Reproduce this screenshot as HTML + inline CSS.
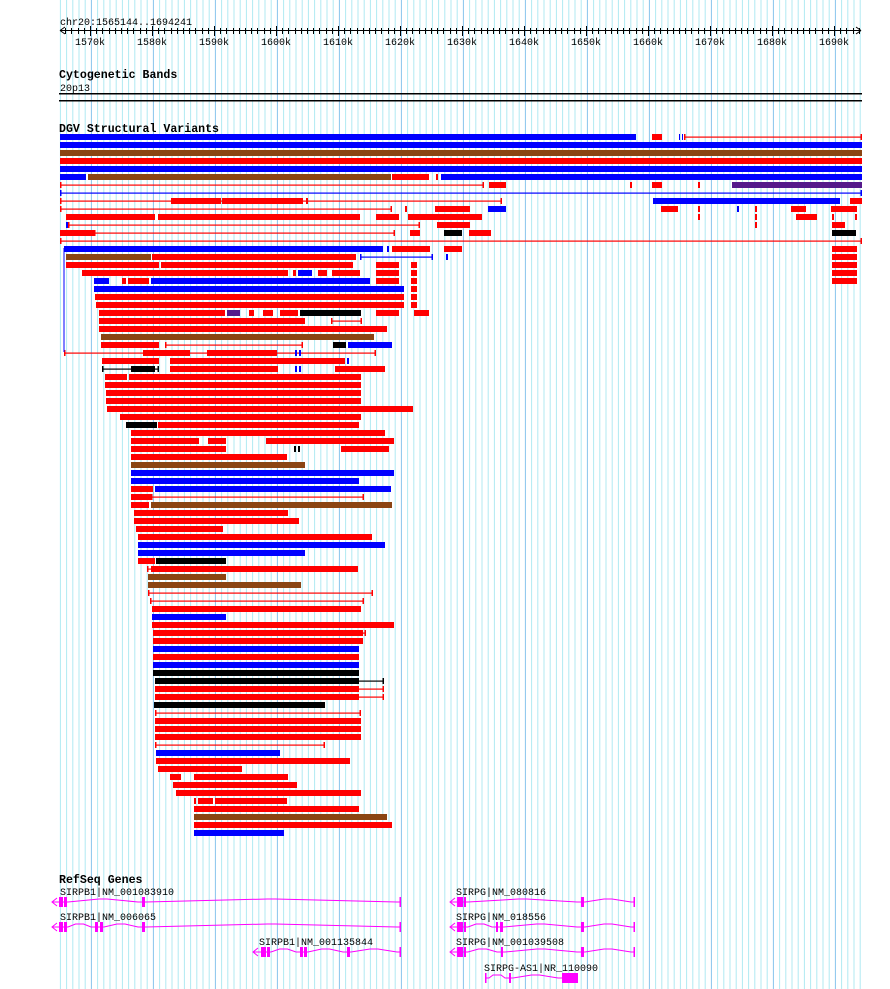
<!DOCTYPE html><html><head><meta charset="utf-8"><style>
html,body{margin:0;padding:0;background:#fff;width:890px;height:989px;overflow:hidden}
svg{display:block}
text{font-family:"Liberation Mono",monospace;font-size:10px;fill:#000}
.b{font-weight:bold;font-size:11.6px}
</style></head><body>
<svg id="s" width="890" height="989" xmlns="http://www.w3.org/2000/svg"></svg>
<script>
var s=document.getElementById('s'),h='';
// grid
for(var i=0;i<=130;i++){var x=59.9+i*6.2;if(x>862)break;var k=1565+i;var maj=((1565+i)%10==0);
h+='<rect x="'+x.toFixed(1)+'" y="0" width="1" height="989" fill="'+(maj?'#88c4ec':'#b0eaf2')+'"/>';}
// ruler
h+='<text x="60" y="25">chr20:1565144..1694241</text>';
h+='<rect x="60" y="30" width="801" height="1" fill="#000"/>';
h+='<path d="M60 30.5 L65 27 M60 30.5 L65 34 M861 30.5 L856 27 M861 30.5 L856 34" stroke="#000" fill="none"/>';
for(var k=1566;k<=1694;k++){var x=Math.round(90+(k-1570)*6.2);var maj=k%10==0;
h+='<rect x="'+x+'" y="'+(maj?26:28)+'" width="1" height="'+(maj?10:6)+'" fill="#000"/>';
if(maj)h+='<text x="'+x+'" y="45" text-anchor="middle">'+k+'k</text>';}
h+='<text class="b" x="59" y="78">Cytogenetic Bands</text><text x="60" y="91">20p13</text>';
h+='<rect x="59" y="93" width="803" height="1.5" fill="#000"/><rect x="59" y="100" width="803" height="1.5" fill="#000"/>';
h+='<text class="b" x="59" y="132">DGV Structural Variants</text>';
var C={b:'#0000ff',r:'#ff0000',n:'#8b4513',k:'#000',p:'#551a8b'};
var rows=[
"b60-636 r652-662 b679-680 b682-683 r~684-862",
"b60-862","n60-862","r60-862","b60-862",
"b60-86 n88-391 r392-429 r436-438 b441-862",
"r~60-484 r489-506 r630-632 r652-662 r698-700 p732-862",
"b~60-862",
"r~60-502 r171-221 r222-303 r306-308 b653-840 r850-862",
"r~60-392 r405-407 r435-470 b488-506 r661-678 r698-700 b737-739 r755-757 r791-806 r831-857",
"r66-155 r158-360 r376-399 r408-482 r698-700 r755-757 r796-817 r832-834 r855-857",
"b66-68 r~68-420 r437-470 r755-757 r832-845",
"r60-94 r~94-395 r410-420 k444-462 r469-491 k832-856",
"r~60-862",
"b64-383 b387-389 r392-430 r444-462 r832-857",
"n66-151 r152-356 b~360-433 b446-448 r832-857",
"r66-159 r161-353 r376-399 r411-417 r832-857",
"r82-288 r293-296 b298-312 r318-327 r332-360 r376-399 r411-417 r832-857",
"b94-109 r122-126 r128-149 b151-370 r376-399 r411-417 r832-857",
"b94-404 r411-417","r95-404 r411-417","r96-404 r411-417",
"r99-225 p227-240 r249-254 r263-273 r280-298 k300-361 r376-399 r414-429",
"r99-305 r~331-362","r99-387","n101-374",
"r101-159 r~165-303 k333-346 b348-392",
"r~64-376 r143-190 r207-277 b295-297 b299-301",
"r102-159 r170-345 b347-349",
"k~102-159 k131-155 r170-278 b295-297 b299-301 r335-385",
"r105-127 r129-361","r105-361","r106-361","r106-361","r107-413","r120-361",
"k126-157 r158-359","r131-385","r131-199 r208-226 r266-394",
"r131-226 k294-296 k298-300 r341-389","r131-287","n131-305","b131-394","b131-359",
"r131-153 b155-391","r131-151 r~151-364","r131-149 n151-392",
"r134-288","r134-299","r136-223","r138-372","b138-385","b138-305","r138-155 k156-226",
"r~147-358 r151-358","n148-226","n148-301","r~148-373","r~150-364","r152-361","b152-226","r152-394",
"r~153-366 r153-363","r153-363","b153-359","r153-359","b153-359","k153-359",
"k~155-384 k155-359","r~155-384 r155-359","r~155-384 r155-359","k154-325",
"r~155-361","r155-361","r155-361","r155-361","r~155-325","b156-280","r156-350","r158-242",
"r170-181 r194-288","r173-297","r176-361","r194-196 r198-213 r215-287","r194-359","n194-387","r194-392","b194-284"];
rows.forEach(function(r,i){var y=134+8*i;r.split(' ').forEach(function(t){
var c=C[t[0]],ln=t[1]=='~',p=t.slice(ln?2:1).split('-'),a=+p[0],b=+p[1];
if(ln){h+='<rect x="'+a+'" y="'+(y+2.5)+'" width="'+(b-a)+'" height="1.2" fill="'+c+'"/><rect x="'+a+'" y="'+y+'" width="1.5" height="6" fill="'+c+'"/><rect x="'+(b-1.5)+'" y="'+y+'" width="1.5" height="6" fill="'+c+'"/>';}
else h+='<rect x="'+a+'" y="'+y+'" width="'+(b-a)+'" height="6" fill="'+c+'"/>';});});
h+='<rect x="63.5" y="248" width="1" height="104" fill="#00f"/>';
// genes
h+='<text class="b" x="59" y="883">RefSeq Genes</text>';
var M='#ff00ff';
function gene(lbl,lx,y,a,b,arrow,ex,bigs){
h+='<text x="'+lx+'" y="'+(y-7)+'">'+lbl+'</text>';
var d='M'+a+' '+y,n=ex.concat(bigs||[]).map(function(e){return e[0]}).concat([b]).sort(function(p,q){return p-q});
var prev=a;n.forEach(function(x){if(x-prev>12){var m=(prev+x)/2;d+=' L'+(prev+4)+' '+y+' L'+(m-4)+' '+(y-3)+' L'+(m+4)+' '+(y-3)+' L'+(x-4)+' '+y+' L'+x+' '+y;}else d+=' L'+x+' '+y;prev=x;});
h+='<path d="'+d+'" stroke="'+M+'" fill="none" stroke-width="1"/>';
if(arrow)h+='<path d="M'+(a+5)+' '+(y-4)+' L'+a+' '+y+' L'+(a+5)+' '+(y+4)+'" stroke="'+M+'" fill="none"/>';
else h+='<rect x="'+a+'" y="'+(y-5)+'" width="1.5" height="10" fill="'+M+'"/>';
h+='<rect x="'+(b-1.5)+'" y="'+(y-5)+'" width="1.5" height="10" fill="'+M+'"/>';
ex.forEach(function(e){h+='<rect x="'+e[0]+'" y="'+(y-5)+'" width="'+(e[1]-e[0])+'" height="10" fill="'+M+'"/>';});
(bigs||[]).forEach(function(e){h+='<rect x="'+e[0]+'" y="'+(y-5)+'" width="'+(e[1]-e[0])+'" height="10" fill="'+M+'"/>';});}
gene('SIRPB1|NM_001083910',60,902,52,401,1,[[59,63],[64,67],[142,145]]);
gene('SIRPB1|NM_006065',60,927,52,401,1,[[59,63],[64,67],[95,98],[100,103],[142,145]]);
gene('SIRPB1|NM_001135844',259,952,253,401,1,[[261,266],[267,270],[300,303],[304,307],[347,350]]);
gene('SIRPG|NM_080816',456,902,450,635,1,[[457,463],[464,466],[581,584]]);
gene('SIRPG|NM_018556',456,927,450,635,1,[[457,463],[464,466],[496,498],[500,503],[581,584]]);
gene('SIRPG|NM_001039508',456,952,450,635,1,[[457,463],[464,466],[501,503],[581,584]]);
gene('SIRPG-AS1|NR_110090',484,978,485,578,0,[[509,511]],[[562,578]]);
s.innerHTML=h;
</script>
</body></html>
